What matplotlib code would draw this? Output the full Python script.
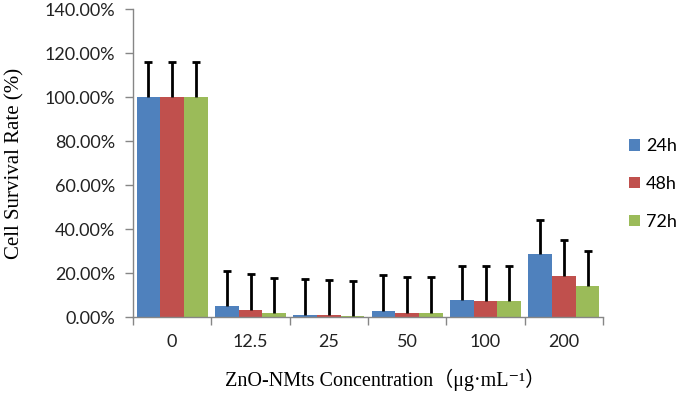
import matplotlib
matplotlib.use("Agg")
import matplotlib.pyplot as plt
import numpy as np
from matplotlib.ticker import FuncFormatter, FixedLocator

categories = ["0", "12.5", "25", "50", "100", "200"]
series_names = ["24h", "48h", "72h"]
v24 = [100.0, 5.0, 1.0, 2.9, 7.7, 28.5]
v48 = [100.0, 3.3, 0.9, 2.0, 7.3, 18.8]
v72 = [100.0, 2.0, 0.3, 1.8, 7.3, 14.0]
e24 = [15.8, 16.0, 16.2, 16.1, 15.5, 15.5]
e48 = [15.9, 16.1, 16.1, 16.0, 15.9, 16.1]
e72 = [15.9, 15.9, 16.2, 16.2, 15.9, 16.0]
colors = ["#4F81BD", "#C0504D", "#9BBB59"]

fig = plt.figure(figsize=(6.78, 3.93), dpi=100)
ax = fig.add_axes([133/678, 76/393, 470/678, 308/393])

x = np.arange(len(categories))
w = 0.303
vals = [v24, v48, v72]
errs = [e24, e48, e72]
for k in range(3):
    pos = x + (k - 1) * w
    ax.bar(pos, vals[k], width=w, color=colors[k], label=series_names[k], zorder=2)
    cont = ax.errorbar(pos, vals[k], yerr=[np.zeros(len(x)), errs[k]], fmt="none",
                       ecolor="black", elinewidth=2, capsize=2.8, capthick=2, zorder=3)
    caps = cont.lines[1]
    if len(caps) == 2:
        caps[0].set_visible(False)

ax.set_xlim(-0.5, len(categories) - 0.5)
ax.set_ylim(0, 140)
ax.set_yticks(np.arange(0, 141, 20))
ax.yaxis.set_major_formatter(FuncFormatter(lambda v, p: f"{v:.2f}%"))
ax.set_xticks(x)
ax.set_xticklabels(categories)
ax.xaxis.set_minor_locator(FixedLocator(np.arange(-0.5, len(categories), 1)))
ax.tick_params(axis="x", which="major", length=0, pad=12)
ax.tick_params(axis="x", which="minor", length=6, color="#868686", width=1)
ax.tick_params(axis="y", length=6, color="#868686", width=1, pad=7)

for lab in ax.get_xticklabels() + ax.get_yticklabels():
    lab.set_fontfamily(["Lato", "DejaVu Sans"])
    lab.set_fontsize(13)
    lab.set_color("#222222")

for s in ["top", "right"]:
    ax.spines[s].set_visible(False)
for s in ["left", "bottom"]:
    ax.spines[s].set_color("#868686")
    ax.spines[s].set_linewidth(1)

ax.set_ylabel("Cell Survival Rate (%)", fontfamily=["Liberation Serif", "DejaVu Serif"],
              fontsize=15)
ax.yaxis.set_label_coords(-(133 - 15) / 470, 0.5)
ax.set_xlabel("ZnO-NMts Concentration（μg·mL⁻¹）",
              fontfamily=["Liberation Serif", "DejaVu Serif", "Noto Sans CJK SC"],
              fontsize=14.5)
ax.xaxis.set_label_coords((385 - 133) / 470, -(380 - 317) / 308)
ax.xaxis.label.set_verticalalignment("center")
ax.yaxis.label.set_verticalalignment("center")

leg = fig.legend(loc="center left", bbox_to_anchor=(629/678, 1 - 184/393), frameon=False,
                 borderpad=0, borderaxespad=0,
                 handlelength=0.6, handleheight=0.6, handletextpad=0.35,
                 labelspacing=1.2, prop={"family": "Lato", "size": 13})

fig.savefig("out.png", dpi=100)
